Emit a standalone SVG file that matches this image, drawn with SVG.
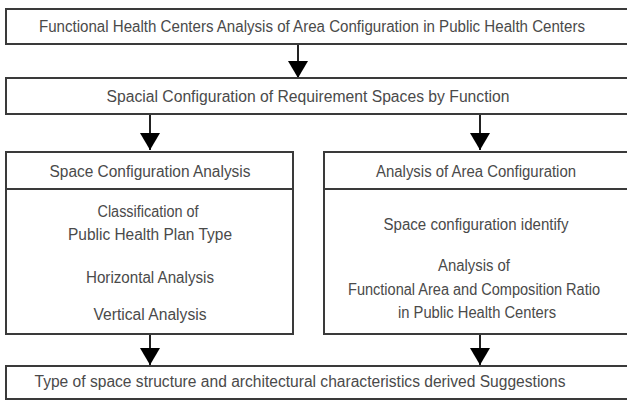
<svg xmlns="http://www.w3.org/2000/svg" width="627" height="401" viewBox="0 0 627 401">
<style>
.box{fill:#fff;stroke:#3a3a3a;stroke-width:2}
.t{font-family:"Liberation Sans",Arial,sans-serif;font-size:16px;fill:#4a4a4a;text-anchor:middle}
.ln{stroke:#222;stroke-width:2;fill:none}
</style>
<defs>
<marker id="ah" markerUnits="userSpaceOnUse" markerWidth="17" markerHeight="20" viewBox="0 0 17 20" refX="17" refY="10" orient="auto">
<path d="M0,0 L17,10 L0,20 Z" fill="#000"/>
</marker>
</defs>
<rect width="627" height="401" fill="#fff"/>
<g id="connectors">
<path class="ln" d="M298,44 V78" marker-end="url(#ah)"/>
<path class="ln" d="M150,114 V150" marker-end="url(#ah)"/>
<path class="ln" d="M480,114 V150" marker-end="url(#ah)"/>
<path class="ln" d="M150,334 V365" marker-end="url(#ah)"/>
<path class="ln" d="M480,334 V365" marker-end="url(#ah)"/>
</g>
<g id="n1">
<rect class="box" x="6" y="9" width="630" height="35"/>
<text class="t" x="312" y="32" textLength="546" lengthAdjust="spacingAndGlyphs">Functional Health Centers Analysis of Area Configuration in Public Health Centers</text>
</g>
<g id="n2">
<rect class="box" x="6" y="78" width="630" height="36"/>
<text class="t" x="308" y="102" textLength="403" lengthAdjust="spacingAndGlyphs">Spacial Configuration of Requirement Spaces by  Function</text>
</g>
<g id="n3">
<rect class="box" x="6" y="152" width="287" height="182"/>
<line class="box" x1="6" y1="189" x2="293" y2="189"/>
<text class="t" x="150" y="177" textLength="201" lengthAdjust="spacingAndGlyphs">Space Configuration Analysis</text>
<text class="t" x="148" y="217" textLength="101" lengthAdjust="spacingAndGlyphs">Classification of</text>
<text class="t" x="150" y="240" textLength="164" lengthAdjust="spacingAndGlyphs">Public Health Plan Type</text>
<text class="t" x="150" y="283" textLength="128" lengthAdjust="spacingAndGlyphs">Horizontal Analysis</text>
<text class="t" x="150" y="320" textLength="113" lengthAdjust="spacingAndGlyphs">Vertical Analysis</text>
</g>
<g id="n4">
<rect class="box" x="324" y="152" width="312" height="182"/>
<line class="box" x1="324" y1="189" x2="636" y2="189"/>
<text class="t" x="476" y="177" textLength="200" lengthAdjust="spacingAndGlyphs">Analysis of Area Configuration</text>
<text class="t" x="476" y="230" textLength="185" lengthAdjust="spacingAndGlyphs">Space configuration identify</text>
<text class="t" x="474" y="271" textLength="72" lengthAdjust="spacingAndGlyphs">Analysis of</text>
<text class="t" x="474" y="295" textLength="252" lengthAdjust="spacingAndGlyphs">Functional Area and Composition Ratio</text>
<text class="t" x="477" y="318" textLength="158" lengthAdjust="spacingAndGlyphs">in Public Health Centers</text>
</g>
<g id="n5">
<rect class="box" x="6" y="366" width="630" height="33"/>
<text class="t" x="300" y="387" textLength="531" lengthAdjust="spacingAndGlyphs">Type of space structure and architectural characteristics derived Suggestions</text>
</g>
</svg>
